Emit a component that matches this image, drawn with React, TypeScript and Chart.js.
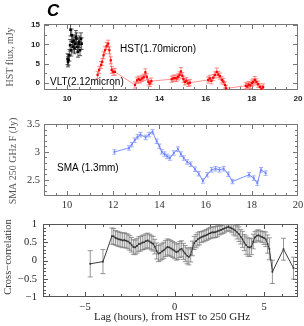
import React, { useEffect, useRef } from "react";
import { Chart, registerables } from "chart.js";
Chart.register(...registerables);

// ---------- Panel 1: near-IR flux (mJy) vs time (h) ----------
const VLT_TIME = [10.02, 10.04, 10.06, 10.1, 10.13, 10.15, 10.18, 10.2, 10.23, 10.26, 10.29, 10.32, 10.35, 10.38, 10.41, 10.44, 10.47, 10.5, 10.53, 10.56, 10.6, 10.63];
const VLT_FLUX = [6.2, 5.5, 6.0, 7.2, 9.8, 13.8, 8.5, 12.4, 10.7, 9.4, 11.0, 9.0, 10.2, 12.0, 11.5, 9.4, 8.1, 10.2, 10.7, 8.5, 11.5, 10.2];
const VLT_ERR = [1.4, 1.3, 1.4, 1.5, 1.5, 1.6, 1.5, 1.6, 1.5, 1.4, 1.5, 1.4, 1.5, 1.6, 1.5, 1.4, 1.4, 1.5, 1.5, 1.4, 1.5, 1.5];

const HST_TIME = [
  11.32, 11.39, 11.47, 11.52, 11.58, 11.64, 11.71, 11.78, 11.83, 11.89, 11.93, 12.0, 12.07,
  12.94, 13.03, 13.1, 13.17, 13.25, 13.32, 13.39, 13.45, 13.52, 13.58, 13.65,
  14.53, 14.6, 14.67, 14.74, 14.81, 14.87, 14.93, 14.99, 15.04, 15.1, 15.17, 15.25, 15.32,
  16.11, 16.18, 16.25, 16.33, 16.4, 16.48, 16.55, 16.62, 16.7, 16.77, 16.84, 16.88,
  17.74, 17.8, 17.86, 17.93, 18.0, 18.06, 18.13, 18.2, 18.27, 18.35, 18.42, 18.49,
];
const HST_FLUX = [
  2.1, 3.4, 4.7, 5.5, 7.2, 8.5, 9.6, 10.2, 8.5, 5.9, 3.4, 2.9, 2.9,
  -0.5, 0.7, 1.0, 0.8, 1.2, 1.5, 2.8, 1.6, 0.3, -0.1, 0.5,
  1.0, 1.2, 1.3, 1.2, 1.6, 2.1, 3.0, 1.9, 1.0, 0.3, 0.6, -0.1, 0.1,
  0.8, 1.2, 0.6, 1.4, 2.1, 2.9, 2.2, 1.8, 0.8, 0.4, -0.5, -1.4,
  -0.7, -0.9, -0.4, -0.6, 0.0, 0.3, 0.8, 0.3, -0.3, -1.0, -1.5, -1.0,
];
const HST_ERR = [
  0.9, 0.9, 0.9, 0.9, 0.9, 0.9, 0.9, 0.9, 0.9, 0.9, 0.9, 0.9, 0.9,
  0.8, 0.8, 0.8, 0.8, 0.8, 0.8, 0.9, 0.8, 0.8, 0.8, 0.8,
  0.8, 0.8, 0.8, 0.8, 0.8, 0.8, 1.0, 0.8, 0.8, 0.8, 0.8, 0.8, 0.8,
  0.8, 0.8, 0.8, 0.8, 0.8, 1.0, 0.8, 0.8, 0.8, 0.8, 0.8, 0.8,
  0.8, 0.8, 0.8, 0.8, 0.8, 0.8, 0.9, 0.8, 0.8, 0.8, 0.8, 0.8,
];

// ---------- Panel 2: SMA 250 GHz flux (Jy) vs time (h) ----------
const SMA_TIME = [12.05, 12.68, 12.8, 12.93, 13.05, 13.18, 13.4, 13.55, 13.7, 13.88, 14.0, 14.1, 14.22, 14.33, 14.45, 14.62, 14.8, 14.93, 15.05, 15.2, 15.35, 15.54, 15.7, 15.88, 16.07, 16.26, 16.43, 16.6, 16.78, 16.98, 17.16, 17.88, 18.08, 18.24, 18.4, 18.6];
const SMA_FLUX = [3.0, 3.07, 3.13, 3.21, 3.27, 3.31, 3.26, 3.31, 3.36, 3.19, 3.1, 3.0, 2.96, 2.92, 2.89, 2.98, 3.05, 2.96, 2.89, 2.82, 2.78, 2.69, 2.61, 2.48, 2.59, 2.68, 2.7, 2.68, 2.7, 2.6, 2.47, 2.59, 2.53, 2.44, 2.68, 2.62];
const SMA_ERR = [0.04, 0.04, 0.04, 0.04, 0.04, 0.04, 0.04, 0.04, 0.04, 0.04, 0.04, 0.04, 0.04, 0.04, 0.04, 0.04, 0.04, 0.04, 0.04, 0.04, 0.04, 0.04, 0.04, 0.04, 0.04, 0.04, 0.04, 0.04, 0.04, 0.04, 0.04, 0.04, 0.04, 0.04, 0.04, 0.04];

// ---------- Panel 3: cross-correlation vs lag (h) ----------
const LAG_HOURS = [
  -4.71, -4.0,
  -3.5, -3.4, -3.3, -3.2, -3.1, -3.0, -2.9, -2.8, -2.7, -2.6,
  -2.5, -2.4, -2.3, -2.2, -2.1, -2.0, -1.9, -1.8, -1.7, -1.6,
  -1.5, -1.4, -1.3, -1.2, -1.1, -1.0, -0.9, -0.8, -0.7, -0.6,
  -0.5, -0.4, -0.3, -0.2, -0.1, 0.0, 0.1, 0.2, 0.3, 0.4,
  0.5, 0.6, 0.7, 0.8, 0.9, 1.0, 1.1, 1.2, 1.3, 1.4,
  1.5, 1.6, 1.7, 1.8, 1.9, 2.0, 2.1, 2.2, 2.3, 2.4,
  2.5, 2.6, 2.7, 2.8, 2.9, 3.0, 3.1, 3.2, 3.3, 3.4,
  3.5, 3.6, 3.7, 3.8, 3.9, 4.0, 4.1, 4.2, 4.3, 4.4,
  4.5, 4.6, 4.7, 4.8, 4.9, 5.0, 5.1, 5.2, 5.3,
  5.47, 6.09, 6.65,
];
const XCORR = [
  -0.09, -0.03,
  0.67, 0.66, 0.62, 0.6, 0.58, 0.57, 0.55, 0.56, 0.54, 0.52,
  0.48, 0.43, 0.37, 0.36, 0.4, 0.45, 0.46, 0.49, 0.5, 0.53,
  0.55, 0.52, 0.49, 0.46, 0.38, 0.26, 0.19, 0.21, 0.25, 0.28,
  0.33, 0.37, 0.36, 0.33, 0.3, 0.27, 0.23, 0.25, 0.3, 0.32,
  0.25, 0.19, 0.13, 0.1, 0.16, 0.33, 0.48, 0.53, 0.58, 0.61,
  0.64, 0.66, 0.68, 0.7, 0.73, 0.75, 0.77, 0.77, 0.78, 0.8,
  0.82, 0.84, 0.86, 0.88, 0.9, 0.92, 0.9, 0.88, 0.85, 0.82,
  0.77, 0.72, 0.65, 0.58, 0.49, 0.42, 0.37, 0.36, 0.38, 0.52,
  0.64, 0.68, 0.69, 0.66, 0.64, 0.62, 0.58, 0.45, 0.32,
  -0.31, 0.31, -0.21,
];
const XCORR_ERR = [
  0.36, 0.33,
  0.22, 0.22, 0.2, 0.2, 0.2, 0.2, 0.2, 0.2, 0.2, 0.2,
  0.2, 0.2, 0.2, 0.2, 0.2, 0.2, 0.2, 0.2, 0.2, 0.2,
  0.2, 0.2, 0.2, 0.2, 0.2, 0.22, 0.22, 0.22, 0.22, 0.22,
  0.22, 0.22, 0.22, 0.22, 0.22, 0.22, 0.22, 0.22, 0.22, 0.22,
  0.22, 0.22, 0.22, 0.22, 0.2, 0.2, 0.18, 0.18, 0.18, 0.18,
  0.15, 0.15, 0.15, 0.15, 0.15, 0.15, 0.15, 0.15, 0.15, 0.15,
  0.12, 0.12, 0.12, 0.12, 0.1, 0.1, 0.1, 0.12, 0.15, 0.15,
  0.18, 0.2, 0.2, 0.22, 0.22, 0.25, 0.25, 0.25, 0.22, 0.2,
  0.15, 0.15, 0.15, 0.15, 0.15, 0.18, 0.2, 0.25, 0.3,
  0.32, 0.3, 0.3,
];

// ---------- Tick labels ----------
const TIME_TICKS = [10, 12, 14, 16, 18, 20];
const HST_TICKS = [0, 5, 10, 15];
const SMA_TICKS = [2.5, 3, 3.5];
const LAG_TICKS = [-5, 0, 5];
const XCORR_TICKS = [-1, -0.5, 0, 0.5, 1];

const steps = (a: number, b: number, s: number) => {
  const out: number[] = [];
  for (let v = a; v <= b + 1e-9; v += s) out.push(Math.round(v * 1000) / 1000);
  return out;
};
const pts = (xs: number[], ys: number[]) => xs.map((x, i) => ({ x, y: ys[i] }));
const fmt = (v: any) => String(v).replace("-", "\u2212");

const errorBarPlugin = {
  id: "errbars",
  beforeDatasetsDraw(chart: any) {
    const { ctx, chartArea: a } = chart;
    ctx.save();
    ctx.beginPath();
    ctx.rect(a.left, a.top, a.right - a.left, a.bottom - a.top);
    ctx.clip();
    chart.data.datasets.forEach((ds: any, i: number) => {
      if (!ds.errY) return;
      const meta = chart.getDatasetMeta(i);
      const xs = chart.scales[meta.xAxisID];
      const ys = chart.scales[meta.yAxisID];
      ctx.strokeStyle = ds.errColor;
      ctx.lineWidth = ds.errWidth || 1;
      ctx.beginPath();
      ds.data.forEach((p: any, j: number) => {
        const x = xs.getPixelForValue(p.x);
        const y1 = ys.getPixelForValue(p.y - ds.errY[j]);
        const y2 = ys.getPixelForValue(p.y + ds.errY[j]);
        const c = ds.capW || 2;
        ctx.moveTo(x, y1);
        ctx.lineTo(x, y2);
        ctx.moveTo(x - c, y1);
        ctx.lineTo(x + c, y1);
        ctx.moveTo(x - c, y2);
        ctx.lineTo(x + c, y2);
      });
      ctx.stroke();
    });
    ctx.restore();
  },
};

const framePlugin = (f: any) => ({
  id: "frame",
  beforeDatasetsDraw(chart: any) {
    const { ctx, chartArea: a, scales } = chart;
    const xs = scales.x;
    const ys = scales.y;
    ctx.save();
    ctx.strokeStyle = f.color;
    ctx.lineWidth = 1;
    ctx.strokeRect(a.left + 0.5, a.top + 0.5, a.right - a.left - 1, a.bottom - a.top - 1);
    ctx.beginPath();
    const doX = (vals: number[], len: number) =>
      vals.forEach((v) => {
        const p = Math.round(xs.getPixelForValue(v)) + 0.5;
        if (p <= a.left + 1 || p >= a.right - 1) return;
        ctx.moveTo(p, a.bottom);
        ctx.lineTo(p, a.bottom - len);
        ctx.moveTo(p, a.top);
        ctx.lineTo(p, a.top + len);
      });
    const doY = (vals: number[], len: number) =>
      vals.forEach((v) => {
        const p = Math.round(ys.getPixelForValue(v)) + 0.5;
        if (p <= a.top + 1 || p >= a.bottom - 1) return;
        ctx.moveTo(a.left, p);
        ctx.lineTo(a.left + len, p);
        ctx.moveTo(a.right, p);
        ctx.lineTo(a.right - len, p);
      });
    doX(f.xMajor, 5);
    doX(f.xMinor, 3);
    doY(f.yMajor, 5);
    doY(f.yMinor, 3);
    ctx.stroke();
    ctx.restore();
  },
});

const textPlugin = (items: any[]) => ({
  id: "texts",
  afterDraw(chart: any) {
    const ctx = chart.ctx;
    items.forEach((t) => {
      ctx.save();
      ctx.font = t.font;
      ctx.fillStyle = t.color;
      ctx.textAlign = t.align || "left";
      ctx.textBaseline = "middle";
      ctx.translate(t.x, t.y);
      if (t.rot) ctx.rotate(t.rot);
      ctx.fillText(t.text, 0, 0);
      ctx.restore();
    });
  },
});

function build(p: any) {
  return {
    type: "scatter",
    data: { datasets: p.datasets },
    options: {
      responsive: false,
      animation: false,
      events: [],
      layout: { padding: p.padding },
      plugins: { legend: { display: false }, tooltip: { enabled: false } },
      scales: {
        x: {
          type: "linear",
          min: p.xMin,
          max: p.xMax,
          grid: { display: false, drawTicks: false },
          border: { display: false },
          afterBuildTicks: (ax: any) => {
            ax.ticks = p.xTicks.map((v: number) => ({ value: v }));
          },
          afterFit: (ax: any) => {
            ax.height = p.xAxisH;
            ax.paddingLeft = 0;
            ax.paddingRight = 0;
          },
          ticks: { padding: p.xPad, font: p.tickFont, color: p.tickColor, maxRotation: 0, autoSkip: false, callback: fmt },
        },
        y: {
          type: "linear",
          min: p.yMin,
          max: p.yMax,
          grid: { display: false, drawTicks: false },
          border: { display: false },
          afterBuildTicks: (ax: any) => {
            ax.ticks = p.yTicks.map((v: number) => ({ value: v }));
          },
          afterFit: (ax: any) => {
            ax.width = p.yAxisW;
            ax.paddingTop = 0;
            ax.paddingBottom = 0;
          },
          ticks: { padding: p.yPad, font: p.tickFont, color: p.tickColor, autoSkip: false, callback: fmt },
        },
      },
    },
    plugins: [framePlugin(p.frame), errorBarPlugin, textPlugin(p.texts)],
  } as any;
}

const SANS = "'Liberation Sans', Arial, sans-serif";
const SERIF = "'Liberation Serif', 'Times New Roman', serif";

function config1() {
  return build({
    padding: { top: 24, right: 6, left: 0, bottom: 0 },
    xMin: 9, xMax: 20, yMin: -1.8, yMax: 15.3,
    xTicks: TIME_TICKS, yTicks: HST_TICKS,
    xAxisH: 20, yAxisW: 44, xPad: 4, yPad: 4,
    tickFont: { family: SANS, size: 8, weight: "bold" }, tickColor: "#222",
    frame: { color: "#777", xMajor: TIME_TICKS, xMinor: steps(9, 20, 0.5), yMajor: HST_TICKS, yMinor: steps(-2.5, 15, 2.5) },
    datasets: [
      {
        data: pts(HST_TIME, HST_FLUX), errY: HST_ERR, errColor: "rgba(255,110,110,0.8)", capW: 2,
        showLine: true, borderColor: "rgba(255,60,60,0.7)", borderWidth: 0.8,
        pointStyle: "rect", pointRadius: 1.6, pointBackgroundColor: "#ff0000", pointBorderColor: "#ff0000", pointBorderWidth: 0,
      },
      {
        data: pts(VLT_TIME, VLT_FLUX), errY: VLT_ERR, errColor: "rgba(60,60,60,0.85)", capW: 2,
        showLine: false,
        pointStyle: "rect", pointRadius: 1.8, pointBackgroundColor: "#000", pointBorderColor: "#000", pointBorderWidth: 0,
      },
    ],
    texts: [
      { text: "C", x: 47, y: 11, font: `italic bold 17px ${SANS}`, color: "#000" },
      { text: "HST(1.70micron)", x: 120, y: 49, font: `10px ${SANS}`, color: "#000" },
      { text: "VLT(2.12micron)", x: 50, y: 82, font: `10px ${SANS}`, color: "#000" },
      { text: "HST flux, mJy", x: 10, y: 57, font: `10px ${SERIF}`, color: "#555", rot: -Math.PI / 2, align: "center" },
    ],
  });
}

function config2() {
  return build({
    padding: { top: 14, right: 6, left: 0, bottom: 0 },
    xMin: 9, xMax: 20, yMin: 2.21, yMax: 3.5,
    xTicks: TIME_TICKS, yTicks: SMA_TICKS,
    xAxisH: 16, yAxisW: 44, xPad: 3, yPad: 4,
    tickFont: { family: SERIF, size: 10.5 }, tickColor: "#333",
    frame: { color: "#777", xMajor: TIME_TICKS, xMinor: steps(9, 20, 0.5), yMajor: SMA_TICKS, yMinor: steps(2.2, 3.5, 0.1) },
    datasets: [
      {
        data: pts(SMA_TIME, SMA_FLUX), errY: SMA_ERR, errColor: "rgba(140,160,255,0.85)", capW: 2,
        showLine: true, borderColor: "rgba(110,130,255,0.9)", borderWidth: 1,
        pointStyle: "rect", pointRadius: 1.3, pointBackgroundColor: "#7080ff", pointBorderColor: "#7080ff", pointBorderWidth: 0,
      },
    ],
    texts: [
      { text: "SMA (1.3mm)", x: 57, y: 58, font: `10px ${SANS}`, color: "#000" },
      { text: "SMA 250 GHz F (Jy)", x: 13, y: 51, font: `10px ${SERIF}`, color: "#555", rot: -Math.PI / 2, align: "center" },
    ],
  });
}

function config3() {
  return build({
    padding: { top: 12, right: 6, left: 0, bottom: 0 },
    xMin: -7.35, xMax: 6.9, yMin: -1, yMax: 1,
    xTicks: LAG_TICKS, yTicks: XCORR_TICKS,
    xAxisH: 29, yAxisW: 43, xPad: 4, yPad: 6,
    tickFont: { family: SERIF, size: 10.5 }, tickColor: "#222",
    frame: { color: "#555", xMajor: LAG_TICKS, xMinor: steps(-7, 6, 1), yMajor: XCORR_TICKS, yMinor: steps(-1, 1, 0.1) },
    datasets: [
      {
        data: pts(LAG_HOURS, XCORR), errY: XCORR_ERR, errColor: "rgba(125,125,125,0.8)", capW: 2.5,
        showLine: true, borderColor: "#3a3a3a", borderWidth: 1,
        pointStyle: "rect", pointRadius: 1.2, pointBackgroundColor: "#333", pointBorderColor: "#333", pointBorderWidth: 0,
      },
    ],
    texts: [
      { text: "Cross\u2212correlation", x: 8, y: 45, font: `10.5px ${SERIF}`, color: "#333", rot: -Math.PI / 2, align: "center" },
      { text: "Lag (hours), from HST to 250 GHz", x: 172, y: 105, font: `11px ${SERIF}`, color: "#222", align: "center" },
    ],
  });
}

export default function App() {
  const r1 = useRef<HTMLCanvasElement>(null);
  const r2 = useRef<HTMLCanvasElement>(null);
  const r3 = useRef<HTMLCanvasElement>(null);
  useEffect(() => {
    const charts = [
      new Chart(r1.current as HTMLCanvasElement, config1()),
      new Chart(r2.current as HTMLCanvasElement, config2()),
      new Chart(r3.current as HTMLCanvasElement, config3()),
    ];
    return () => charts.forEach((c) => c.destroy());
  }, []);
  return (
    <div style={{ position: "absolute", left: 0, top: 0, width: 304, height: 326, background: "#fff" }}>
      <canvas ref={r1} width={304} height={110} style={{ position: "absolute", left: 0, top: 0 }} />
      <canvas ref={r2} width={304} height={102} style={{ position: "absolute", left: 0, top: 110 }} />
      <canvas ref={r3} width={304} height={114} style={{ position: "absolute", left: 0, top: 212 }} />
    </div>
  );
}
